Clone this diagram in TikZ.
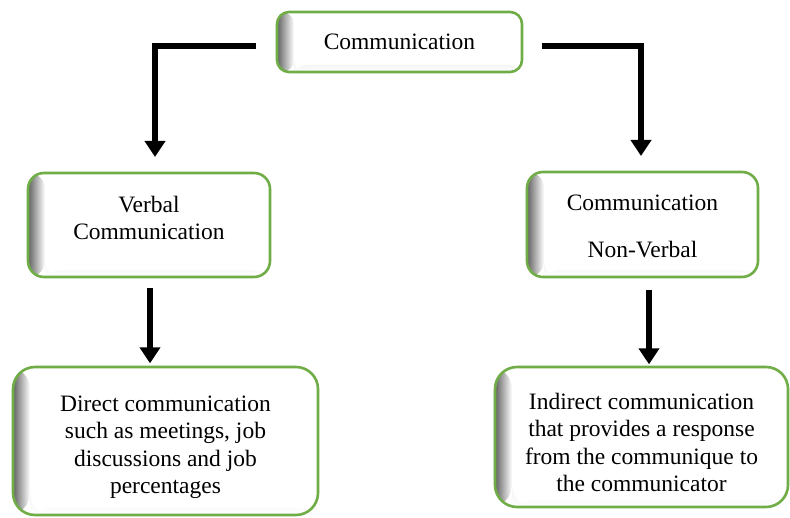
\documentclass[tikz,border=0pt]{standalone}
\usepackage{fontspec}
\setmainfont{Liberation Serif}
\usetikzlibrary{arrows.meta,calc}
\definecolor{boxgreen}{RGB}{112,173,71}
\tikzset{
  sbox/.style={draw=boxgreen, line width=2.6pt, rounded corners=#1, fill=white,
    inner sep=0pt,
    path picture={
      \shade[top color=black!35, bottom color=white]
        ([xshift=17pt]path picture bounding box.south west)
        rectangle ([yshift=7pt]path picture bounding box.south east);
      \shade[left color=black!62, right color=white] (path picture bounding box.south west)
        rectangle ([xshift=17pt]path picture bounding box.north west);
    }},
  sbox/.default=12pt,
  txt/.style={align=center, inner sep=0pt, font=\fontsize{23.5}{27.5}\selectfont},
  arr/.style={line width=6pt, line join=miter, -{Triangle[width=20pt,length=16pt]}}
}
\begin{document}
\begin{tikzpicture}[x=1pt,y=-1pt]
\useasboundingbox (0,0) rectangle (790,518);
\fill[white] (0,0) rectangle (790,518);

\node[sbox=12pt, minimum width=245pt, minimum height=60pt] (top) at (399.5,42) {};
\node[sbox=16pt, minimum width=242pt, minimum height=104pt] (verbal) at (149,225) {};
\node[sbox=16pt, minimum width=231pt, minimum height=105pt] (nonverbal) at (642.5,224.5) {};
\node[sbox=22pt, minimum width=305pt, minimum height=148pt] (direct) at (165.5,441) {};
\node[sbox=22pt, minimum width=293pt, minimum height=140pt] (indirect) at (641.5,437) {};

\node[txt] (toptext) at ($(top.center)+(0,0)$) {Communication};
\node[txt] (verbaltext) at ($(verbal.center)+(0,-7)$) {Verbal\\Communication};
\node[txt] (nonverbaltext) at ($(nonverbal.center)+(0,2)$) {Communication\\[20pt]Non-Verbal};
\node[txt] (directtext) at ($(direct.center)+(0,6.5)$) {Direct communication\\such as meetings, job\\discussions and job\\percentages};
\node[txt] (indirecttext) at ($(indirect.center)+(0,5.5)$) {Indirect communication\\that provides a response\\from the communique to\\the communicator};

\coordinate (l1) at ($(top.west)+(-20,4)$);
\coordinate (l2) at (155,157);
\coordinate (r1) at ($(top.east)+(19,4)$);
\coordinate (r2) at (641,156);
\coordinate (v1) at ($(verbal.south)+(1,10)$);
\coordinate (v2) at ($(verbal.south)+(1,85)$);
\coordinate (n1) at ($(nonverbal.south)+(6.5,12)$);
\coordinate (n2) at ($(nonverbal.south)+(6.5,86)$);

\draw[arr] (l1) -| (l2);
\draw[arr] (r1) -| (r2);
\draw[arr] (v1) -- (v2);
\draw[arr] (n1) -- (n2);
\end{tikzpicture}
\end{document}
